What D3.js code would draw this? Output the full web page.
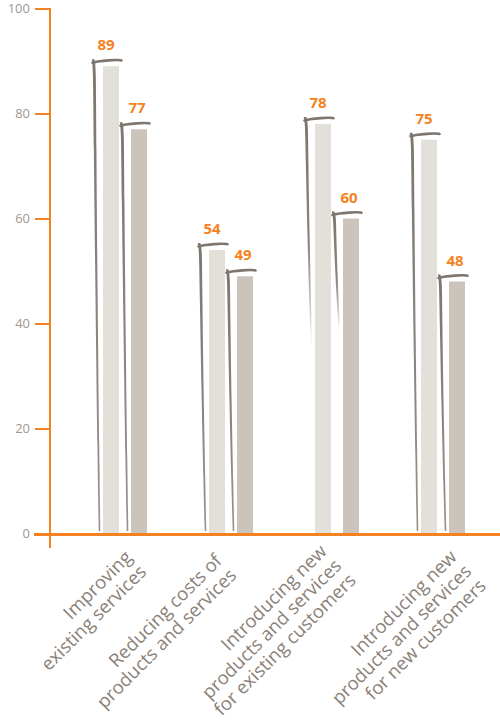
<!DOCTYPE html>
<html>
<head>
<meta charset="utf-8">
<script src="https://cdn.jsdelivr.net/npm/d3@7"></script>
<style>
  html, body { margin: 0; padding: 0; background: #fff; }
  svg { display: block; }
</style>
</head>
<body>
<svg id="chart" width="500" height="722"></svg>
<script>
// ---- data ----
const categories = [
  "Improving|existing services",
  "Reducing costs of|products and services",
  "Introducing new|products and services|for existing customers",
  "Introducing new|products and services|for new customers"
];
const series = ["first", "second"];
const firstValues = [89, 54, 78, 75];
const secondValues = [77, 49, 60, 48];
const yTicks = [0, 20, 40, 60, 80, 100];

// ---- layout ----
const W = 500, H = 722;
const orange = "#f58220";
const ink = "#7e766e";
const barFill = { first: "#e3dfd9", second: "#ccc4bb" };
// where each hand-drawn bracket fades out (in axis units)
const bracketFloor = [[0.5, 0.5], [0.5, 0.5], [35, 38], [0.5, 0.5]];
// label block nudges relative to the group centre on the baseline
const labelNudge = [[8, 25], [-8, 28.5], [-9, 19], [15, 24.5]];

const svg = d3.select("#chart");

const y = d3.scaleLinear().domain([0, 100]).range([533.5, 8.5]);
const x0 = d3.scaleBand().domain(d3.range(categories.length)).range([72, 496]);
const x1 = d3.scaleBand().domain(series).range([-22, 22]).paddingInner(0.4286);

const rows = categories.map((c, i) => ({
  i,
  lines: c.split("|"),
  bars: series.map((s, j) => ({
    key: s, i, j, value: (j === 0 ? firstValues : secondValues)[i]
  }))
}));

const defs = svg.append("defs");
const soft = defs.append("filter").attr("id", "soft")
  .attr("x", "-50%").attr("y", "-5%").attr("width", "200%").attr("height", "110%");
soft.append("feGaussianBlur").attr("stdDeviation", 0.45);

// ---- bars ----
const groups = svg.append("g").selectAll("g").data(rows).join("g")
  .attr("transform", d => `translate(${x0(d.i) + x0.bandwidth() / 2},0)`);

groups.selectAll("rect").data(d => d.bars).join("rect")
  .attr("x", d => x1(d.key))
  .attr("width", x1.bandwidth())
  .attr("y", d => y(d.value))
  .attr("height", d => y(0) - y(d.value))
  .attr("fill", d => barFill[d.key]);

// ---- hand-drawn brackets ----
const vArea = d3.area()
  .y(p => p.y)
  .x0(p => p.x - p.w / 2)
  .x1(p => p.x + p.w / 2)
  .curve(d3.curveBasis);
const hLine = d3.line().x(p => p.x).y(p => p.y).curve(d3.curveBasis);

rows.forEach(r => {
  const cx = x0(r.i) + x0.bandwidth() / 2;
  r.bars.forEach(b => {
    const xl = cx + x1(b.key);
    const xr = xl + x1.bandwidth();
    const yt = y(b.value);
    const floor = bracketFloor[r.i][b.j];
    const yb = y(floor);
    const fades = floor > 5;
    const gid = `fade-${r.i}-${b.j}`;
    const g = defs.append("linearGradient").attr("id", gid)
      .attr("gradientUnits", "userSpaceOnUse")
      .attr("x1", 0).attr("x2", 0).attr("y1", yt - 6).attr("y2", yb);
    g.append("stop").attr("offset", 0).attr("stop-color", ink).attr("stop-opacity", 1);
    g.append("stop").attr("offset", 0.55).attr("stop-color", ink).attr("stop-opacity", 0.9);
    g.append("stop").attr("offset", 1).attr("stop-color", ink).attr("stop-opacity", fades ? 0 : 0.8);

    const span = yb - yt;
    const pts = [
      { x: xl - 10, y: yt - 7, w: 2.6 },
      { x: xl - 8.5, y: yt - 3, w: 3.0 },
      { x: xl - 8, y: yt + span * 0.15, w: 2.6 },
      { x: xl - 6.5, y: yt + span * 0.5, w: 2.1 },
      { x: xl - 4.5, y: yt + span * 0.85, w: 1.8 },
      { x: xl - 3.5, y: yb, w: fades ? 0.6 : 1.6 }
    ];
    const bg = svg.append("g").attr("filter", "url(#soft)");
    bg.append("path").attr("d", vArea(pts)).attr("fill", `url(#${gid})`);
    bg.append("path")
      .attr("d", hLine([
        { x: xl - 10.5, y: yt - 3.5 },
        { x: xl - 4, y: yt - 5 },
        { x: xl + 6, y: yt - 6 },
        { x: xr - 2, y: yt - 6.5 },
        { x: xr + 2.5, y: yt - 5.8 }
      ]))
      .attr("fill", "none")
      .attr("stroke", ink)
      .attr("stroke-width", 2.6)
      .attr("stroke-linecap", "round");
  });
});

// ---- value labels ----
groups.selectAll("text.val").data(d => d.bars).join("text")
  .attr("class", "val")
  .attr("x", d => x1(d.key) + x1.bandwidth() / 2 + (d.j === 0 ? -5 : -2))
  .attr("y", d => y(d.value) - 16)
  .attr("text-anchor", "middle")
  .attr("font-family", "'Open Sans', 'DejaVu Sans', sans-serif")
  .attr("font-weight", 700)
  .attr("font-size", 15)
  .attr("fill", orange)
  .text(d => d.value);

// ---- axes ----
const axisG = svg.append("g").attr("transform", "translate(50,0)");
axisG.append("line")
  .attr("x1", 0).attr("x2", 0).attr("y1", y(100) - 0.5).attr("y2", 548)
  .attr("stroke", orange).attr("stroke-width", 2);
const yAxis = d3.axisLeft(y).tickValues(yTicks).tickSize(15).tickPadding(5);
axisG.call(yAxis);
axisG.select(".domain").remove();
axisG.selectAll(".tick line").attr("stroke", orange).attr("stroke-width", 2);
axisG.selectAll(".tick text")
  .attr("fill", "#a1988f")
  .attr("font-family", "'Open Sans', 'DejaVu Sans', sans-serif")
  .attr("font-size", 13);

// baseline
svg.append("line")
  .attr("x1", 34).attr("x2", W).attr("y1", y(0) + 1).attr("y2", y(0) + 1)
  .attr("stroke", orange).attr("stroke-width", 3);

// ---- category labels ----
const lineH = 20.5;
svg.append("g").selectAll("text").data(rows).join("text")
  .attr("transform", d => {
    const ax = x0(d.i) + x0.bandwidth() / 2 + labelNudge[d.i][0];
    const ay = y(0) + labelNudge[d.i][1];
    return `translate(${ax},${ay}) rotate(-45)`;
  })
  .attr("text-anchor", "end")
  .attr("font-family", "'Open Sans', 'DejaVu Sans', sans-serif")
  .attr("font-size", 18.5)
  .attr("fill", "#8b8178")
  .selectAll("tspan").data(d => d.lines).join("tspan")
  .attr("x", 0)
  .attr("dy", (l, k) => k === 0 ? 0 : lineH)
  .text(l => l);
</script>
</body>
</html>
